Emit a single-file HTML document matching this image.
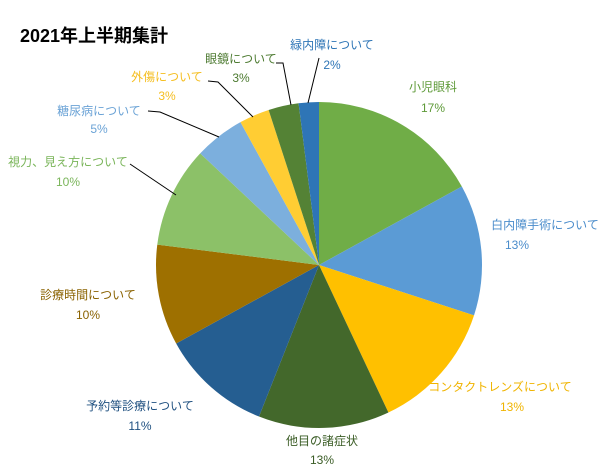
<!DOCTYPE html>
<html><head><meta charset="utf-8"><style>
body{margin:0;background:#fff}
svg{display:block;font-family:"Liberation Sans","Noto Sans CJK JP",sans-serif}
</style></head><body>
<svg id="chart" width="616" height="472" viewBox="0 0 616 472">
<rect width="616" height="472" fill="#fff"/>
<text x="20" y="42" font-size="18" font-weight="bold" fill="#000">2021年上半期集計</text>
<g id="slices"></g>
<g id="leaders" stroke="#000" stroke-width="1" fill="none">
<polyline points="319,58 308,103"/>
<polyline points="276,63 283,63 291,105"/>
<polyline points="208,81 218,82 253,117"/>
<polyline points="148,111 160,112 219,137"/>
<polyline points="130,164 176,195"/>
</g>
<g id="labels" font-size="12"></g>
</svg>
<script>
const categories=["小児眼科","白内障手術について","コンタクトレンズについて","他目の諸症状","予約等診療について","診療時間について","視力、見え方について","糖尿病について","外傷について","眼鏡について","緑内障について"];
const values=[17,13,13,13,11,10,10,5,3,3,2];
const colors=["#70AD47","#5B9BD5","#FFC000","#43682B","#255E91","#9E7000","#8CC168","#7CAFDD","#FFCD33","#548235","#2E75B6"];
const textColors=["#5E9A38","#4A8CCB","#F0B400","#3A5C25","#1F5080","#8A6200","#7AB55A","#6BA3D6","#F5BE20","#4C7A30","#2E75B6"];
const labelPos=[[433,91,433,112],[545,229,517,249],[500,391,512,411],[322,445,322,464],[140,410,140,430],[88,299,88,319],[68,166,68,186],[99,115,99,133],[167,81,167,100],[241,63,241,82],[332,49,332,69]];
const cx=319,cy=265,r=163;
const ns="http://www.w3.org/2000/svg";
const total=values.reduce((a,b)=>a+b,0);
const sg=document.getElementById('slices'),lg=document.getElementById('labels');
let a0=-Math.PI/2;
values.forEach((v,i)=>{
  const a1=a0+v/total*2*Math.PI;
  const x0=cx+r*Math.cos(a0),y0=cy+r*Math.sin(a0),x1=cx+r*Math.cos(a1),y1=cy+r*Math.sin(a1);
  const p=document.createElementNS(ns,'path');
  p.setAttribute('d',`M${cx},${cy}L${x0},${y0}A${r},${r} 0 ${a1-a0>Math.PI?1:0} 1 ${x1},${y1}Z`);
  p.setAttribute('fill',colors[i]);
  
  
  sg.appendChild(p);
  const lp=labelPos[i];
  const t1=document.createElementNS(ns,'text');
  t1.setAttribute('x',lp[0]);t1.setAttribute('y',lp[1]);t1.setAttribute('text-anchor','middle');t1.setAttribute('fill',textColors[i]);
  t1.textContent=categories[i];
  
  
  lg.appendChild(t1);
  const t2=document.createElementNS(ns,'text');
  t2.setAttribute('x',lp[2]);t2.setAttribute('y',lp[3]);t2.setAttribute('text-anchor','middle');t2.setAttribute('fill',textColors[i]);
  t2.textContent=v+'%';
  
  
  lg.appendChild(t2);
  a0=a1;
});
</script>
</body></html>
